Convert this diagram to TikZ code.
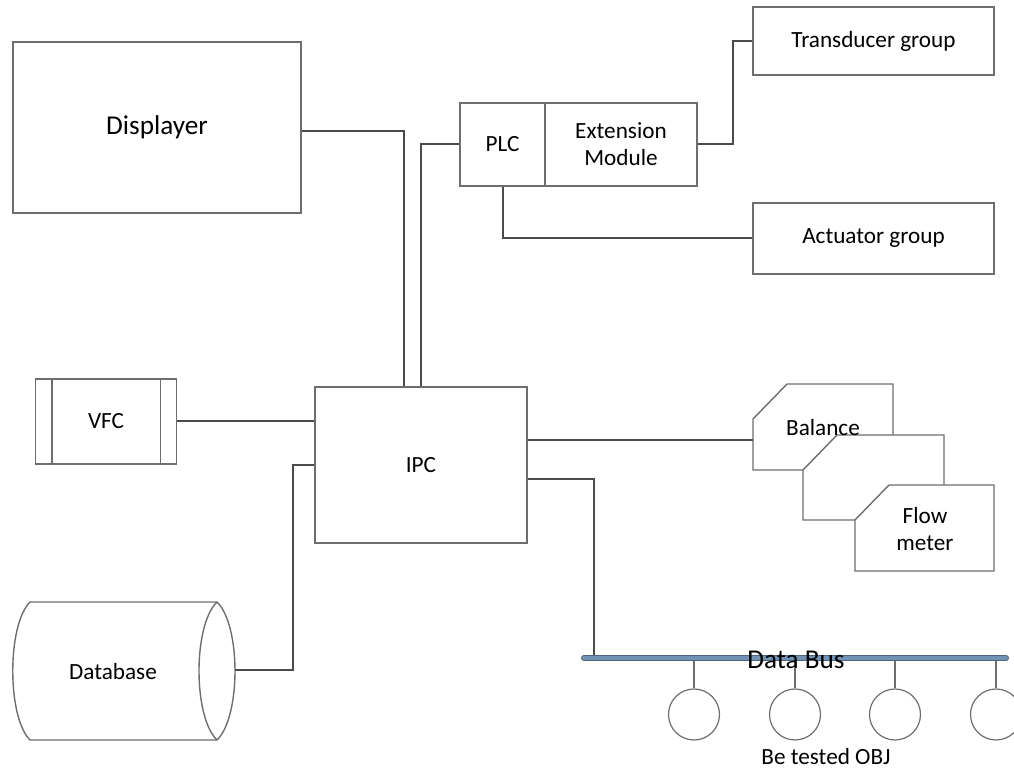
\documentclass[tikz,border=0pt]{standalone}
\usepackage{fontspec}
\setmainfont{Carlito}
\usetikzlibrary{positioning,calc}
\definecolor{boxgray}{RGB}{110,110,110}
\definecolor{wiregray}{RGB}{75,75,75}
\definecolor{busblue}{RGB}{112,146,180}
\definecolor{busedge}{RGB}{80,100,125}

\begin{document}
\begin{tikzpicture}[x=0.5pt, y=-0.5pt,
  box/.style={draw=boxgray, line width=0.7pt, fill=white, inner sep=0pt, font=\fontsize{11.6}{13.6}\selectfont, align=center},
  wire/.style={draw=wiregray, line width=1pt},
  lbl/.style={font=\fontsize{11.6}{13.8}\selectfont, align=center},
  obj/.style={draw=boxgray, line width=0.6pt, circle, minimum size=25.5pt, inner sep=0pt}]
\useasboundingbox (0,0) rectangle (1014,774);

\node[box, minimum width=144pt, minimum height=85.5pt, font=\fontsize{13.6}{16}\selectfont] (disp) at (157,127.5) {Displayer};
\node[box, minimum width=42.5pt, minimum height=41.5pt] (plc) at (502.5,144.5) {PLC};
\node[box, minimum width=76pt, minimum height=41.5pt] (ext) at (621,144.5) {Extension\\Module};
\node[box, minimum width=120.5pt, minimum height=34pt] (trans) at (873.5,41) {Transducer group};
\node[box, minimum width=120.5pt, minimum height=35.5pt] (act) at (873.5,238.5) {Actuator group};
\node[box, minimum width=106pt, minimum height=78pt] (ipc) at (421,465) {IPC};
\node[box, minimum width=70.5pt, minimum height=42.5pt] (vfc) at (106,421.5) {VFC};
\draw[boxgray, line width=0.7pt] ($(vfc.north west)+(17,0)$) -- ($(vfc.south west)+(17,0)$)
  ($(vfc.north east)+(-17,0)$) -- ($(vfc.south east)+(-17,0)$);

% database drum
\draw[boxgray, line width=0.7pt, fill=white] (30,602) -- (217,602) .. controls (241,625) and (241,717) .. (217,740)
  -- (30,740) .. controls (7,717) and (7,625) .. (30,602) -- cycle;
\draw[boxgray, line width=0.7pt] (217,602) .. controls (193,625) and (193,717) .. (217,740);
\node[lbl] (db) at (113,672) {Database};
\coordinate (dbR) at (235,670);

% balance / flow meter stack
\foreach \x/\y/\w/\h in {753/384/140/86, 803/435/141/85, 855/485/139/86}
  \draw[boxgray, line width=0.7pt, fill=white] (\x,\y+35) -- (\x+34,\y) -- (\x+\w,\y) -- (\x+\w,\y+\h) -- (\x,\y+\h) -- cycle;
\node[lbl] (bal) at (823,428) {Balance};
\node[lbl] (flow) at (925,529) {Flow\\meter};
\coordinate (balW) at (753,440);

% wiring
\draw[wire] ($(disp.east)+(0,4)$) -| ($(ipc.north)+(-17,0)$);
\draw[wire] (plc.west) -| (ipc.north);
\draw[wire] (plc.south) |- (act.west);
\draw[wire] (ext.east) -- ++(35,0) |- (trans.west);
\draw[wire] (vfc.east) -- (vfc.east -| ipc.west);
\draw[wire] (ipc.west) -- ++(-21,0) |- (dbR);
\draw[wire] ($(ipc.east)+(0,-25)$) -- (balW);

% data bus and objects under test
\coordinate (busA) at (584,658);
\coordinate (busB) at (1006,658);
\draw[wire] ($(ipc.east)+(0,14)$) -| ($(busA)+(10,0)$);
\foreach \i/\x in {1/694,2/795,3/895,4/996} {
  \node[obj] (o\i) at (\x,714.5) {};
  \draw[boxgray, line width=0.6pt] (o\i.north) -- (o\i.north |- busA);
}
\draw[busedge, line width=3pt, line cap=round] (busA) -- (busB);
\draw[busblue, line width=2pt, line cap=round] (busA) -- (busB);
\node[font=\fontsize{13.6}{16}\selectfont] (busname) at (796,660) {Data Bus};
\node[lbl] (objname) at (826,757) {Be tested OBJ};
\end{tikzpicture}
\end{document}
